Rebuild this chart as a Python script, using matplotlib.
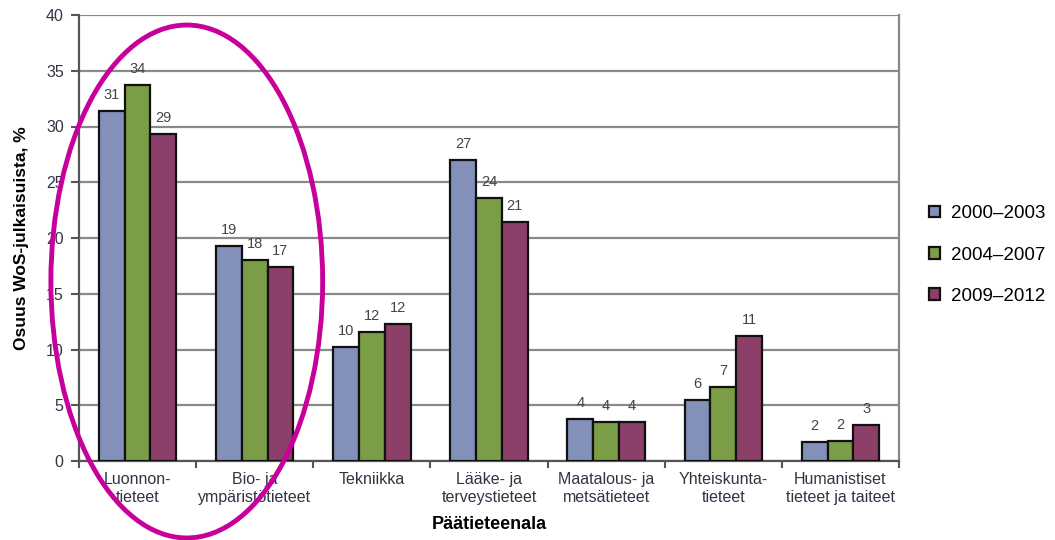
import numpy as np
import matplotlib
matplotlib.use("Agg")
import matplotlib.pyplot as plt
from matplotlib.patches import Ellipse

plt.rcParams["font.family"] = ["Liberation Sans", "DejaVu Sans"]

categories = ["Luonnon-\ntieteet", "Bio- ja\nympäristötieteet", "Tekniikka",
              "Lääke- ja\nterveystieteet", "Maatalous- ja\nmetsätieteet",
              "Yhteiskunta-\ntieteet", "Humanistiset\ntieteet ja taiteet"]
periods = ["2000–2003", "2004–2007", "2009–2012"]
share_2000_2003 = [31.4, 19.3, 10.2, 27.0, 3.8, 5.5, 1.7]
share_2004_2007 = [33.7, 18.0, 11.6, 23.6, 3.5, 6.6, 1.8]
share_2009_2012 = [29.3, 17.4, 12.3, 21.4, 3.5, 11.2, 3.2]
labels_2000_2003 = [31, 19, 10, 27, 4, 6, 2]
labels_2004_2007 = [34, 18, 12, 24, 4, 7, 2]
labels_2009_2012 = [29, 17, 12, 21, 4, 11, 3]

series = [share_2000_2003, share_2004_2007, share_2009_2012]
series_labels = [labels_2000_2003, labels_2004_2007, labels_2009_2012]
colors = ["#8390B9", "#7A9D45", "#8C3F68"]

fig = plt.figure(figsize=(10.55, 5.4), dpi=100)
ax = fig.add_axes([79 / 1055, 1 - 461 / 540, 820 / 1055, 446 / 540])

x = np.arange(len(categories))
w = 0.22
for k, (vals, labs) in enumerate(zip(series, series_labels)):
    pos = x + (k - 1) * w
    ax.bar(pos, vals, width=w, color=colors[k], edgecolor="#111111",
           linewidth=1.6, label=periods[k], zorder=3)
    for px, v, lab in zip(pos, vals, labs):
        ax.text(px, v + 0.8, str(lab), ha="center", va="bottom",
                fontsize=10.5, color="#444444")

ax.set_xlim(-0.5, len(categories) - 0.5)
ax.set_ylim(0, 40)
ax.set_yticks(range(0, 41, 5))
ax.yaxis.grid(True, color="#8a8a8a", linewidth=1.6, zorder=0)
ax.set_axisbelow(True)

ax.set_xticks(x)
ax.set_xticklabels(categories, fontsize=11.5, color="#333344", linespacing=1.2)
ax.tick_params(axis="x", which="major", length=0, pad=8)
ax.set_xticks(np.arange(-0.5, len(categories), 1.0), minor=True)
ax.tick_params(axis="x", which="minor", length=5, width=1.5, color="#555555")
ax.tick_params(axis="y", length=6, width=1.5, color="#555555",
               labelsize=11.5, labelcolor="#333344", pad=5)

for side in ["left", "bottom"]:
    ax.spines[side].set_color("#555555")
    ax.spines[side].set_linewidth(1.6)
ax.spines["right"].set_color("#888888")
ax.spines["right"].set_linewidth(1.6)
ax.spines["top"].set_visible(False)

ax.set_ylabel("Osuus WoS-julkaisuista, %", fontsize=12.5, fontweight="bold",
              labelpad=12)
ax.set_xlabel("Päätieteenala", fontsize=13, fontweight="bold", labelpad=8)

# highlight ring around the first two fields
ring = Ellipse((0.42, 16.1), width=2.32, height=46.0, fill=False,
               edgecolor="#C8009B", linewidth=3.5, clip_on=False, zorder=5)
ax.add_patch(ring)

fig.legend(loc="center left", bbox_to_anchor=(912 / 1055, 1 - 255 / 540),
           frameon=False, fontsize=13.5, handlelength=0.6, handleheight=0.6,
           handletextpad=0.6, labelspacing=1.3)

plt.savefig("out.png", dpi=100)
plt.close()
